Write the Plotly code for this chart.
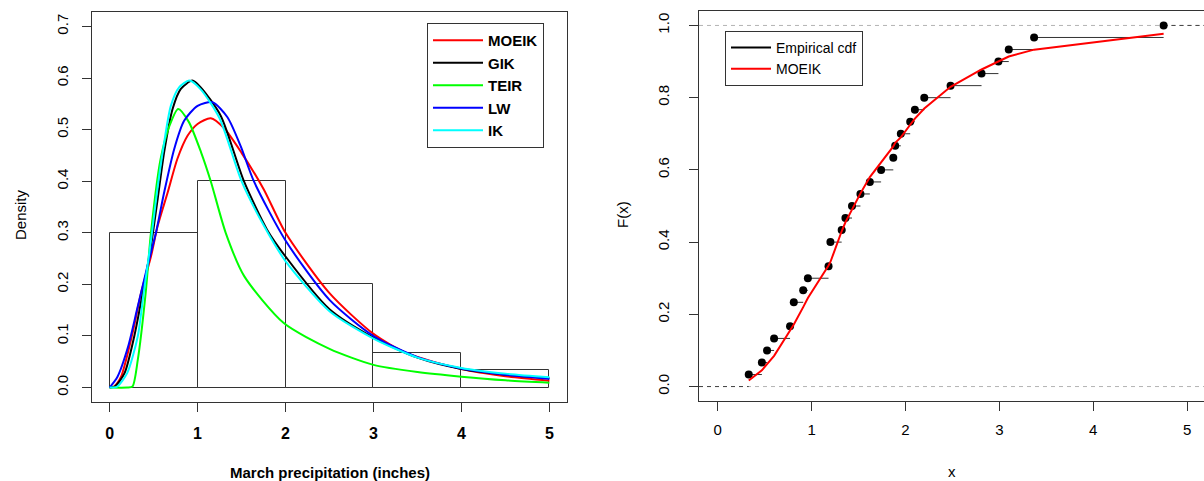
import numpy as np
import plotly.graph_objects as go

# ---------------- data ----------------
precip = [0.33, 0.47, 0.525, 0.60, 0.77, 0.81, 0.81, 0.91, 0.96, 1.18,
          1.20, 1.20, 1.32, 1.36, 1.43, 1.52, 1.62, 1.74, 1.87, 1.89,
          1.95, 2.05, 2.10, 2.20, 2.48, 2.81, 2.99, 3.10, 3.37, 4.75]

# fitted MOEIK cdf evaluated at the distinct observations
moeik_cdf = [0.017, 0.045, 0.062, 0.085, 0.155, 0.172, 0.22, 0.245, 0.335, 0.345,
             0.43, 0.455, 0.49, 0.535, 0.58, 0.62, 0.665, 0.675, 0.69, 0.725,
             0.742, 0.77, 0.83, 0.878, 0.90, 0.914, 0.933, 0.977]

# fitted densities
moeik_x = [0, 0.05, 0.13, 0.26, 0.357, 0.47, 0.546, 0.66, 0.77, 0.886, 1.0, 1.15,
           1.3, 1.5, 1.75, 2.0, 2.5, 3.0, 3.38, 4.0, 4.5, 5.0]
moeik_y = [0, 0.002, 0.021, 0.105, 0.183, 0.254, 0.313, 0.378, 0.443, 0.488, 0.511, 0.522,
           0.503, 0.455, 0.385, 0.30, 0.183, 0.104, 0.0665, 0.036, 0.022, 0.013]

gik_x = [0, 0.06, 0.17, 0.28, 0.376, 0.47, 0.546, 0.62, 0.716, 0.81, 0.94, 1.036,
         1.263, 1.527, 1.79, 2.0, 2.5, 3.0, 3.5, 4.0, 4.5, 5.0]
gik_y = [0, 0.002, 0.028, 0.099, 0.183, 0.274, 0.365, 0.456, 0.54, 0.579, 0.595, 0.582,
         0.527, 0.40, 0.306, 0.254, 0.152, 0.097, 0.058, 0.036, 0.025, 0.018]

teir_x = [0, 0.2, 0.26, 0.32, 0.41, 0.47, 0.58, 0.68, 0.78, 0.9, 1.04, 1.15, 1.32,
          1.53, 1.98, 2.5, 3.0, 3.5, 4.0, 4.5, 5.0]
teir_y = [0, 0, 0.002, 0.053, 0.183, 0.30, 0.443, 0.507, 0.54, 0.515, 0.456, 0.40, 0.30,
          0.216, 0.125, 0.075, 0.044, 0.03, 0.021, 0.014, 0.0094]

lw_x = [0, 0.09, 0.21, 0.32, 0.43, 0.527, 0.62, 0.734, 0.847, 1.0, 1.17, 1.34, 1.49,
        1.64, 2.0, 2.5, 3.0, 3.5, 4.0, 4.5, 5.0]
lw_y = [0, 0.021, 0.079, 0.157, 0.235, 0.30, 0.378, 0.462, 0.517, 0.546, 0.553, 0.524, 0.468,
        0.40, 0.285, 0.17, 0.10, 0.059, 0.037, 0.025, 0.017]

ik_x = [0, 0.085, 0.2, 0.32, 0.387, 0.47, 0.538, 0.614, 0.696, 0.79, 0.905, 1.036,
        1.25, 1.5, 1.75, 2.0, 2.5, 3.0, 3.5, 4.0, 4.5, 5.0]
ik_y = [0, 0.002, 0.028, 0.099, 0.183, 0.284, 0.378, 0.468, 0.546, 0.582, 0.595, 0.578,
        0.522, 0.40, 0.315, 0.245, 0.148, 0.095, 0.058, 0.038, 0.027, 0.02]

density_names = ["MOEIK", "GIK", "TEIR", "LW", "IK"]
density_colors = ["#FF0000", "#000000", "#00FF00", "#0000FF", "#00FFFF"]

x_ticks = [0, 1, 2, 3, 4, 5]
dens_ticks = [0, 0.1, 0.2, 0.3, 0.4, 0.5, 0.6, 0.7]
cdf_ticks = [0, 0.2, 0.4, 0.6, 0.8, 1.0]

# ---------------- layout constants ----------------
W, H = 1204, 481
FONT = "Liberation Sans"
left_xrange = [-0.2, 5.2]
left_yrange = [-0.028, 0.728]
right_xrange = [-0.2, 5.18]
right_yrange = [-0.04, 1.04]

fig = go.Figure()

# histogram
fig.add_trace(go.Histogram(
    x=precip, xbins=dict(start=0, end=5, size=1), histnorm="probability density",
    marker=dict(color="rgba(0,0,0,0)", line=dict(color="#333333", width=1)),
    showlegend=False, hoverinfo="skip", xaxis="x", yaxis="y"))

# density curves
curves = [(moeik_x, moeik_y), (gik_x, gik_y), (teir_x, teir_y), (lw_x, lw_y), (ik_x, ik_y)]
for (cx, cy), nm, col in zip(curves, density_names, density_colors):
    fig.add_trace(go.Scatter(
        x=cx, y=cy, mode="lines", name=nm,
        line=dict(color=col, width=2, shape="spline", smoothing=0.7),
        legend="legend", xaxis="x", yaxis="y"))

# ECDF
vals, counts = np.unique(np.array(precip), return_counts=True)
F = np.cumsum(counts) / len(precip)
sx, sy = [], []
for i in range(len(vals) - 1):
    sx += [vals[i], vals[i + 1], None]
    sy += [F[i], F[i], None]
fig.add_trace(go.Scatter(x=sx, y=sy, mode="lines", line=dict(color="#333333", width=1),
                         showlegend=False, hoverinfo="skip", xaxis="x2", yaxis="y2"))
# extensions to the plot edges
fig.add_trace(go.Scatter(x=[right_xrange[0], vals[0], None, vals[-1], right_xrange[1]],
                         y=[0, 0, None, 1, 1], mode="lines",
                         line=dict(color="#444444", width=1, dash="4px,4px"),
                         showlegend=False, hoverinfo="skip", xaxis="x2", yaxis="y2"))
fig.add_trace(go.Scatter(x=vals, y=F, mode="markers", marker=dict(color="black", size=8),
                         showlegend=False, xaxis="x2", yaxis="y2"))
fig.add_trace(go.Scatter(x=[None], y=[None], mode="lines", name="Empirical cdf",
                         line=dict(color="black", width=2), legend="legend2",
                         xaxis="x2", yaxis="y2"))
fig.add_trace(go.Scatter(x=vals, y=moeik_cdf, mode="lines", name="MOEIK",
                         line=dict(color="#FF0000", width=2), legend="legend2",
                         xaxis="x2", yaxis="y2"))

# dashed reference lines at 0 and 1
for yv in (0, 1):
    fig.add_shape(type="line", xref="x2 domain", yref="y2", x0=0, x1=1, y0=yv, y1=yv,
                  line=dict(color="#b3b3b3", width=1, dash="4px,4px"), layer="below")

axis_common = dict(showgrid=False, zeroline=False, showline=True, linecolor="#333333",
                   linewidth=1, ticks="outside", ticklen=9, tickcolor="#333333", tickwidth=1)

fig.update_layout(
    width=W, height=H, margin=dict(l=0, r=0, t=0, b=0),
    paper_bgcolor="white", plot_bgcolor="white",
    font=dict(family=FONT, color="#000000"),
    bargap=0,
    xaxis=dict(domain=[92 / W, 567 / W], range=left_xrange, tickvals=x_ticks, mirror=True,
               anchor="y", tickfont=dict(size=16, weight="bold"), ticklabelstandoff=8,
               **axis_common),
    yaxis=dict(domain=[1 - 402 / H, 1 - 12 / H], range=left_yrange, tickvals=dens_ticks,
               tickformat=".1f", tickangle=-90, mirror=True, anchor="x",
               tickfont=dict(size=15), ticklabelstandoff=8, **axis_common),
    xaxis2=dict(domain=[699 / W, 1.0], range=right_xrange, tickvals=x_ticks, mirror=True,
                anchor="y2", tickfont=dict(size=15), ticklabelstandoff=6, **axis_common),
    yaxis2=dict(domain=[1 - 401 / H, 1 - 11 / H], range=right_yrange, tickvals=cdf_ticks,
                tickformat=".1f", tickangle=-90, mirror=False, anchor="x2",
                tickfont=dict(size=15), ticklabelstandoff=14, **axis_common),
    legend=dict(x=427 / W, y=1 - 23 / H, xanchor="left", yanchor="top",
                bgcolor="white", bordercolor="#333333", borderwidth=1, itemwidth=50,
                font=dict(size=15, weight="bold")),
    legend2=dict(x=725 / W, y=1 - 31 / H, xanchor="left", yanchor="top",
                 bgcolor="white", bordercolor="#333333", borderwidth=1, itemwidth=40,
                 font=dict(size=14)),
)

titles = [
    dict(text="Density", x=20 / W, y=1 - 215 / H, textangle=-90, font=dict(size=15)),
    dict(text="March precipitation (inches)", x=330 / W, y=1 - 472 / H,
         font=dict(size=15, weight="bold")),
    dict(text="F(x)", x=622 / W, y=1 - 215 / H, textangle=-90, font=dict(size=15)),
    dict(text="x", x=952 / W, y=1 - 471 / H, font=dict(size=15)),
]
for t in titles:
    fig.add_annotation(xref="paper", yref="paper", showarrow=False,
                       xanchor="center", yanchor="middle", **t)

fig.write_html("out.html")
